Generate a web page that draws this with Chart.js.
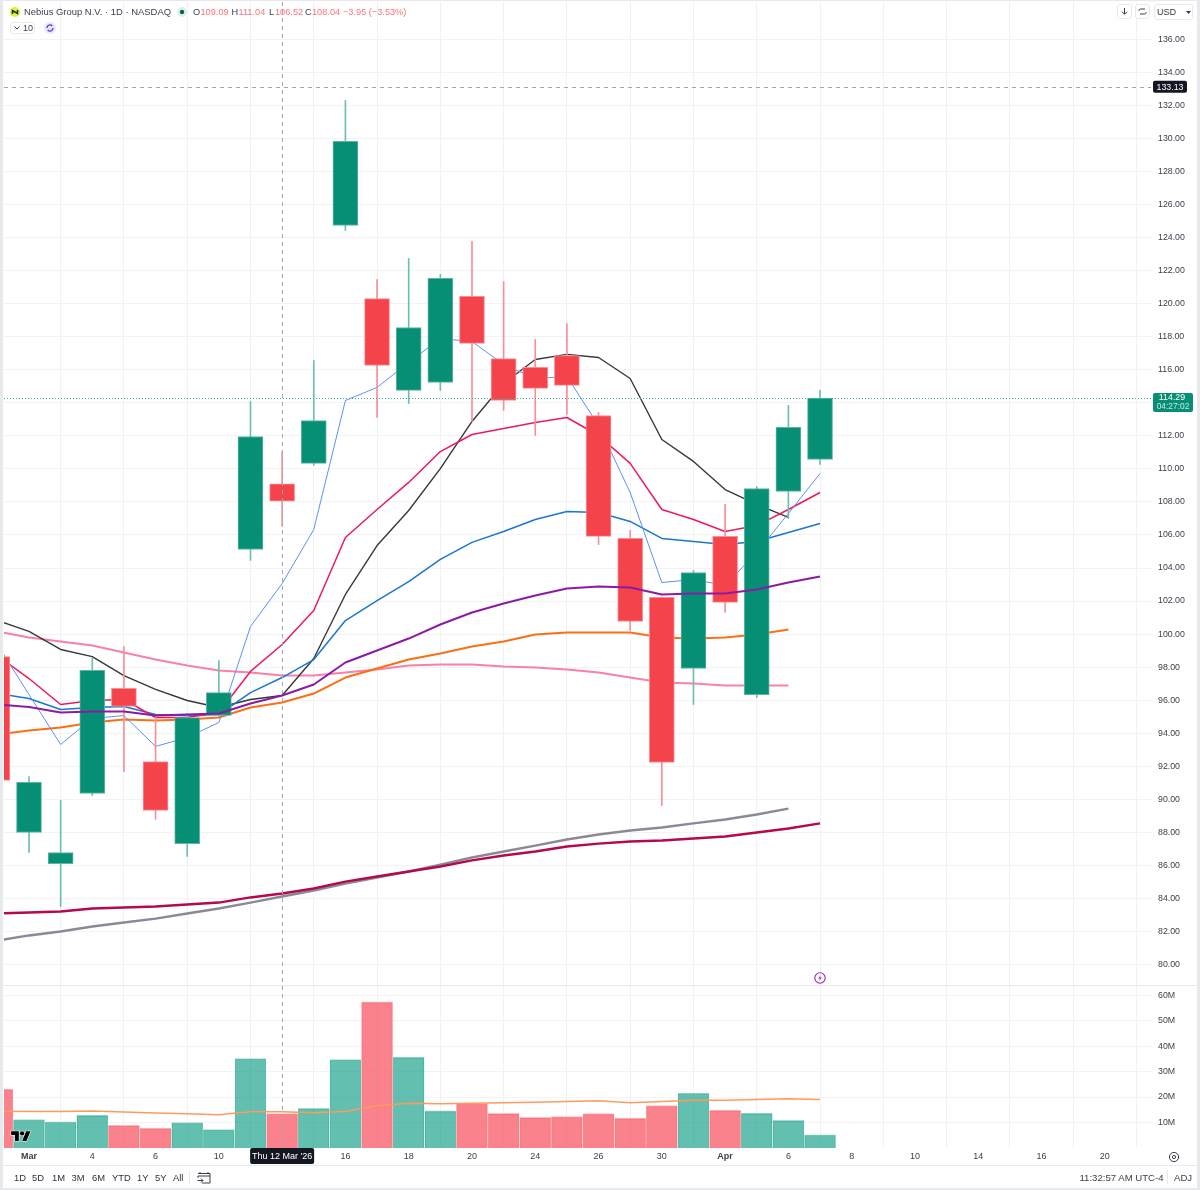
<!DOCTYPE html>
<html><head><meta charset="utf-8">
<script src="https://cdn.jsdelivr.net/npm/chart.js@4/dist/chart.umd.min.js"></script>
<style>
html,body{margin:0;padding:0;background:#fff;width:1200px;height:1190px;overflow:hidden;font-family:"Liberation Sans",sans-serif}
#wrap{position:relative;width:1200px;height:1190px}
canvas{position:absolute;left:0;top:0}
.t{position:absolute;white-space:nowrap;line-height:12px;color:#131722}
.b{position:absolute;box-sizing:border-box;border:1px solid #e9eaec;border-radius:3px;background:#fff}
.l{position:absolute;background:#e8e9ec}
.r{color:#f7747b}
.tb{font-size:9.4px;color:#2e3240;top:1172px}
svg{position:absolute;overflow:visible}
</style></head><body><div id="wrap">
<canvas id="c" width="1200" height="1190"></canvas>
<div class="l" style="left:0;top:0;width:3px;height:1190px"></div>
<div class="l" style="left:1197px;top:0;width:3px;height:1190px"></div>
<div class="l" style="left:0;top:0;width:1200px;height:1px"></div>
<div class="l" style="left:0;top:1188px;width:1200px;height:2px"></div>
<div class="l" style="left:3px;top:985px;width:1194px;height:1px"></div>
<div class="l" style="left:3px;top:1165px;width:1194px;height:1px"></div>
<div class="l" style="left:189px;top:1170px;width:1px;height:14px"></div>
<div class="l" style="left:1167px;top:1170px;width:1px;height:14px"></div>

<svg style="left:10px;top:7px" width="10" height="10" viewBox="0 0 10 10"><circle cx="5" cy="5" r="5" fill="#dcf23c"/><path d="M2.5 7V3.6L7.5 6.4V3" fill="none" stroke="#1f2a10" stroke-width="1.5"/></svg>
<div class="t" style="left:24px;top:6px;font-size:9.45px;color:#3a3e4a">Nebius Group N.V. · 1D · NASDAQ</div>
<svg style="left:177px;top:7px" width="10" height="10" viewBox="0 0 10 10"><circle cx="5" cy="5" r="5" fill="#dcefeb"/><circle cx="5" cy="5" r="2.2" fill="#0b5f4f"/></svg>
<div class="t" style="left:193px;top:6px;font-size:9.2px;color:#3a3e4a">O</div><div class="t r" style="left:200.5px;top:6px;font-size:9.2px">109.09</div>
<div class="t" style="left:231.5px;top:6px;font-size:9.2px;color:#3a3e4a">H</div><div class="t r" style="left:238.5px;top:6px;font-size:9.2px">111.04</div>
<div class="t" style="left:269px;top:6px;font-size:9.2px;color:#3a3e4a">L</div><div class="t r" style="left:275px;top:6px;font-size:9.2px">106.52</div>
<div class="t" style="left:305px;top:6px;font-size:9.2px;color:#3a3e4a">C</div><div class="t r" style="left:312px;top:6px;font-size:9.2px">108.04</div>
<div class="t r" style="left:343px;top:6px;font-size:9.2px">−3.95 (−3.53%)</div>

<div class="b" style="left:10px;top:22px;width:25px;height:12px"></div>
<svg style="left:14px;top:26px" width="6" height="4" viewBox="0 0 6 4"><path d="M.5 .5L3 3 5.5 .5" fill="none" stroke="#3a3e4a"/></svg>
<div class="t" style="left:23px;top:22px;font-size:9px;color:#3a3e4a">10</div>
<svg style="left:44px;top:22px" width="12" height="12" viewBox="0 0 12 12"><circle cx="6" cy="6" r="6" fill="#ece8fb"/><path d="M3 6a3 3 0 0 1 5.3-2M9 6a3 3 0 0 1-5.3 2" fill="none" stroke="#5f3fe0" stroke-width="1.4"/></svg>

<div class="b" style="left:1117px;top:4px;width:15px;height:15px"></div>
<svg style="left:1121px;top:8px" width="7" height="7" viewBox="0 0 7 7"><path d="M3.5 0V6M1 3.8L3.5 6.3 6 3.8" fill="none" stroke="#3a3e4a"/></svg>
<div class="b" style="left:1135px;top:4px;width:15px;height:15px"></div>
<svg style="left:1138px;top:8px" width="9" height="7" viewBox="0 0 9 7"><path d="M1 3V2.5Q1 1 2.5 1H7M8 4V4.5Q8 6 6.5 6H2" fill="none" stroke="#3a3e4a"/></svg>
<div class="b" style="left:1154px;top:4px;width:39px;height:16px"></div>
<div class="t" style="left:1157px;top:6px;font-size:9px;color:#3a3e4a">USD</div>
<svg style="left:1186px;top:11px" width="5" height="3" viewBox="0 0 5 3"><path d="M0 0L2.5 3 5 0z" fill="#3a3e4a"/></svg>

<svg style="left:11px;top:1129px" width="20" height="12" viewBox="0 0 36 22"><g fill="#000" stroke="#fff" stroke-width="2" paint-order="stroke"><path d="M14 22H7V11H0V4h14v18zM28 22h-8l7.5-18h8L28 22z"/><circle cx="20" cy="8" r="4"/></g></svg>
<svg style="left:814px;top:972px" width="12" height="12" viewBox="0 0 12 12"><circle cx="6" cy="6" r="5.2" fill="#fff" stroke="#9c27b0" stroke-width="1.1"/><path d="M6.8 2.8L4.2 6.4H6L5.2 9.2 7.8 5.6H6z" fill="#9c27b0"/></svg>
<svg style="left:1168px;top:1151px" width="12" height="12" viewBox="0 0 12 12"><circle cx="6" cy="6" r="4.6" fill="none" stroke="#3a3e4a"/><circle cx="6" cy="6" r="1.6" fill="none" stroke="#3a3e4a"/></svg>

<div class="t tb" style="left:14px">1D</div><div class="t tb" style="left:32px">5D</div>
<div class="t tb" style="left:52px">1M</div><div class="t tb" style="left:71.5px">3M</div>
<div class="t tb" style="left:92px">6M</div><div class="t tb" style="left:112px">YTD</div>
<div class="t tb" style="left:137px">1Y</div><div class="t tb" style="left:155px">5Y</div>
<div class="t tb" style="left:173px">All</div>
<svg style="left:197px;top:1171px" width="14" height="13" viewBox="0 0 14 13"><path d="M3 3V1M11 3V1M1 2.5H13V12H5M13 5H1V7M0.5 9.5H6M4 7.5L6 9.5 4 11.5" fill="none" stroke="#3a3e4a" stroke-width="1"/></svg>
<div class="t" style="left:1079.5px;top:1172px;font-size:9.6px;color:#3a3e4a">11:32:57 AM UTC-4</div>
<div class="t" style="left:1174px;top:1172px;font-size:9.6px;color:#3a3e4a">ADJ</div>
</div>
<script>
// Trading days shown on the axis (index = position on the time axis)
const dates = ["Feb 27","Mar 2","Mar 3","Mar 4","Mar 5","Mar 6","Mar 9","Mar 10","Mar 11","Mar 12","Mar 13","Mar 16","Mar 17","Mar 18","Mar 19","Mar 20","Mar 23","Mar 24","Mar 25","Mar 26","Mar 27","Mar 30","Mar 31","Apr 1","Apr 2","Apr 6","Apr 7"];
const opens  = [98.64,87.99,86.11,90.35,96.71,92.29,87.32,95.07,105.12,109.09,110.33,124.73,120.31,114.75,115.23,120.44,116.68,116.14,116.86,113.23,105.79,102.22,97.92,105.91,96.34,108.63,110.57];
const highs  = [100.00,91.38,89.93,98.58,99.25,94.95,95.19,98.40,114.08,111.04,116.56,132.30,121.46,122.74,121.77,123.77,121.34,117.83,118.80,113.41,106.27,102.25,103.85,107.85,108.93,113.84,114.75];
const lows   = [90.50,86.78,83.51,90.23,91.68,88.78,86.54,95.01,104.46,106.52,110.21,124.43,113.11,113.96,114.75,112.87,113.54,112.02,113.29,105.42,100.22,89.62,95.74,101.31,96.16,107.00,110.27];
const closes = [91.14,91.02,86.78,97.80,95.62,89.32,94.95,96.46,111.96,108.04,112.93,129.82,116.26,118.56,121.53,117.59,114.14,114.87,115.05,105.91,100.76,92.23,103.73,101.91,108.81,112.51,114.29];
const volumes = [23.1,11.2,10.3,12.9,8.9,7.8,10.0,7.2,35.1,13.5,15.6,34.7,57.4,35.7,14.6,17.4,13.6,12.0,12.3,13.5,11.7,16.7,21.6,14.9,13.7,10.9,5.2];
const volumeMA = [14.5,14.3,14.3,14.5,14.1,13.7,13.4,13.1,14.2,14.2,13.8,14.3,16.6,17.6,17.4,17.6,17.8,18.0,18.3,18.6,17.8,18.3,18.7,18.7,19.0,19.3,19.0];

const maBlack = [100.82,100.16,99.07,98.64,97.49,96.65,95.98,95.56,96.04,96.28,98.52,102.40,105.36,107.48,110.02,112.87,115.17,116.62,116.93,116.74,115.47,111.78,110.45,108.75,107.85,107.06];
const maCrimson = [98.70,97.31,95.74,95.98,96.04,94.95,94.95,95.25,97.74,99.37,101.43,105.85,107.54,109.18,111.05,112.08,112.45,112.81,113.11,112.02,110.33,107.54,106.94,106.21,106.57,107.54,108.57];
const maLightBlue = [99.37,96.34,93.32,94.89,95.07,93.20,93.74,94.65,100.46,103.06,106.33,114.14,114.93,116.44,117.89,117.71,116.32,115.47,115.59,112.63,108.57,103.12,103.31,102.94,104.94,107.30,109.72];
const maBlue = [96.40,96.10,95.44,95.56,95.62,95.13,95.07,95.13,96.46,97.37,98.46,100.82,102.03,103.18,104.52,105.55,106.21,106.94,107.42,107.36,106.82,105.79,105.61,105.42,105.61,106.15,106.69];
const maPurple = [95.74,95.59,95.25,95.31,95.31,95.07,95.13,95.19,95.80,96.28,96.95,98.28,99.01,99.73,100.58,101.31,101.85,102.34,102.76,102.88,102.82,102.40,102.46,102.46,102.70,103.12,103.49];
const maOrange = [93.92,94.16,94.35,94.65,94.83,94.77,94.83,94.95,95.56,95.86,96.40,97.37,97.92,98.46,98.83,99.25,99.55,99.98,100.10,100.10,100.10,99.79,99.73,99.79,99.98,100.28];
const maPink = [100.16,99.79,99.55,99.31,98.89,98.46,98.10,97.80,97.68,97.49,97.49,97.68,97.86,98.10,98.16,98.16,98.04,97.98,97.86,97.68,97.37,97.07,97.01,96.89,96.89,96.89];
const maGray = [81.45,81.76,82.00,82.30,82.54,82.78,83.09,83.39,83.75,84.12,84.48,84.90,85.27,85.63,86.05,86.48,86.84,87.20,87.57,87.87,88.11,88.29,88.54,88.78,89.08,89.44];
const maDeep = [83.09,83.15,83.21,83.39,83.45,83.51,83.63,83.75,84.06,84.30,84.60,85.02,85.33,85.63,85.93,86.30,86.60,86.84,87.14,87.32,87.45,87.51,87.63,87.75,87.99,88.23,88.54];

const priceTicks = [80,82,84,86,88,90,92,94,96,98,100,102,104,106,108,110,112,114,116,118,120,122,124,126,128,130,132,134,136];
const volumeTicks = [10,20,30,40,50,60];
const timeTickIndex = [1,3,5,7,9,11,13,15,17,19,21,23,25,27,29,31,33,35];
const timeTickLabels = ["Mar","4","6","10","12","16","18","20","24","26","30","Apr","6","8","10","14","16","20"];

const crossIndex = 9, crossPrice = 133.13, lastPrice = 114.29;
const crossDateLabel = "Thu 12 Mar '26", countdown = "04:27:02";

const UP="#078f75", DOWN="#f4434b", UPL="#6cbfae", DOWNL="#f98f94", VUP="rgba(8,153,129,.63)", VDOWN="rgba(247,82,95,.72)";
const FONT='"Liberation Sans", sans-serif', TICK="#3a3e4a", GRID="#f3f3f5";
const isUp = i => closes[i] >= opens[i];
const colours = (a,b) => dates.map((_,i)=> isUp(i)?a:b);
const line = (label,vals,color,width,order,axis) => ({type:'line',label,data:vals.map((y,x)=>({x,y})),borderColor:color,borderWidth:width,pointRadius:0,tension:0,order,yAxisID:axis||'y',borderJoinStyle:'round'});
const noPad = s => { s.paddingTop=0; s.paddingBottom=0; s.paddingLeft=0; s.paddingRight=0; };

const overlay = {
  id:'overlay',
  afterDatasetsDraw(ch){
    const {ctx,chartArea:a,scales:{x,y}} = ch;
    ctx.save();
    ctx.lineWidth=1;
    ctx.setLineDash([1,2]); ctx.strokeStyle="#3fae9a";
    const ly=Math.round(y.getPixelForValue(lastPrice))+.5;
    ctx.beginPath(); ctx.moveTo(a.left,ly); ctx.lineTo(a.right,ly); ctx.stroke();
    ctx.setLineDash([4,4]); ctx.strokeStyle="#a4a7af";
    const cy=Math.round(y.getPixelForValue(crossPrice))+.5, cx=Math.round(x.getPixelForValue(crossIndex))+.5;
    ctx.beginPath(); ctx.moveTo(a.left,cy); ctx.lineTo(a.right,cy); ctx.moveTo(cx,a.top); ctx.lineTo(cx,a.bottom); ctx.stroke();
    ctx.restore();
  },
  afterDraw(ch){
    const {ctx,chartArea:a,scales:{x,y}} = ch;
    ctx.save();
    ctx.font='8.8px '+FONT; ctx.textBaseline='middle'; ctx.textAlign='center';
    const tag=(l,t,w,h,fill)=>{ctx.fillStyle=fill;ctx.beginPath();ctx.roundRect(l,t,w,h,2);ctx.fill();};
    const cy=y.getPixelForValue(crossPrice);
    tag(a.right+2,cy-6,34,12,"#131722");
    ctx.fillStyle="#fff"; ctx.fillText(crossPrice.toFixed(2),a.right+19,cy+.5);
    const ly=y.getPixelForValue(lastPrice);
    tag(a.right+2,ly-5,40,19,"#078f75");
    ctx.fillStyle="#fff"; ctx.fillText(lastPrice.toFixed(2),a.right+21,ly);
    ctx.fillStyle="#c9e8e1"; ctx.font='8.4px '+FONT; ctx.fillText(countdown,a.right+22,ly+9);
    const cx=x.getPixelForValue(crossIndex);
    tag(cx-32,a.bottom,64,16,"#131722");
    ctx.fillStyle="#fff"; ctx.font='9px '+FONT; ctx.fillText(crossDateLabel,cx,a.bottom+8.5);
    ctx.restore();
  }
};

new Chart(document.getElementById('c'),{
  type:'bar',
  plugins:[overlay],
  data:{datasets:[
    {type:'bar',label:'Volume',yAxisID:'yv',grouped:false,barThickness:31,order:30,
     data:volumes.map((y,x)=>({x,y})),backgroundColor:colours(VUP,VDOWN),borderColor:colours("#a5dad0","#fcc0c3"),borderWidth:{top:1,left:.5,right:.5,bottom:0},borderSkipped:false},
    line('Volume MA',volumeMA,"#ff9a5e",1.5,29,'yv'),
    line('MA gray',maGray,"#8b8996",2.4,28),
    line('MA deep',maDeep,"#b5084f",2.4,27),
    line('MA pink',maPink,"#f980a9",2,26),
    line('MA orange',maOrange,"#fb6f15",2,25),
    line('MA black',maBlack,"#383838",1.4,24),
    line('MA blue',maBlue,"#1976d2",1.5,23),
    line('MA crimson',maCrimson,"#ec1a5c",1.5,22),
    line('MA light blue',maLightBlue,"#5c8ffb",1,21),
    {type:'bar',label:'Wicks',yAxisID:'y',grouped:false,barThickness:1,order:12,
     data:dates.map((_,x)=>({x,y:[lows[x],highs[x]]})),backgroundColor:colours(UPL,DOWNL),borderWidth:0},
    {type:'bar',label:'Bodies',yAxisID:'y',grouped:false,barThickness:25,order:11,
     data:dates.map((_,x)=>({x,y:[opens[x],closes[x]]})),backgroundColor:colours(UP,DOWN),borderColor:colours("#5db5a4","#f98f94"),borderWidth:1,borderSkipped:false},
    line('MA purple',maPurple,"#8b1ba3",2,5)
  ]},
  options:{
    responsive:false,animation:false,devicePixelRatio:1,
    layout:{padding:{left:4,right:0,top:2,bottom:25}},
    plugins:{legend:{display:false},tooltip:{enabled:false}},
    events:[],
    scales:{
      x:{type:'linear',bounds:'data',min:0.21,max:36.46,offset:false,
        afterFit(s){s.height=17;noPad(s);},
        afterBuildTicks(s){s.ticks=timeTickIndex.map(value=>({value}));},
        grid:{color:"#f1f1f3",drawTicks:false},border:{display:false},
        ticks:{autoSkip:false,maxRotation:0,minRotation:0,padding:3,color:TICK,
          font:c=>({family:FONT,size:9,weight:c.tick&&/[A-Z]/.test(timeTickLabels[timeTickIndex.indexOf(c.tick.value)]||'')?'bold':'normal'}),
          callback:v=>v===crossIndex?'':timeTickLabels[timeTickIndex.indexOf(v)]}},
      y:{position:'right',stack:'panes',stackWeight:983,weight:0,bounds:'data',min:78.76,max:138.26,
        afterFit(s){s.width=49;noPad(s);},
        afterBuildTicks(s){s.ticks=priceTicks.map(value=>({value}));},
        grid:{color:GRID,drawTicks:false},border:{display:false},
        ticks:{padding:7,color:TICK,font:{family:FONT,size:8.8},autoSkip:false,
          callback:v=>v===114?'':v.toFixed(2)}},
      yv:{position:'right',stack:'panes',stackWeight:163,weight:1,bounds:'data',min:0,max:64,
        afterFit(s){s.width=49;noPad(s);},
        afterBuildTicks(s){s.ticks=volumeTicks.map(value=>({value}));},
        grid:{color:GRID,drawTicks:false},border:{display:false},
        ticks:{padding:7,color:TICK,font:{family:FONT,size:8.8},autoSkip:false,
          callback:v=>v+'M'}}
    }
  }
});
</script></body></html>
